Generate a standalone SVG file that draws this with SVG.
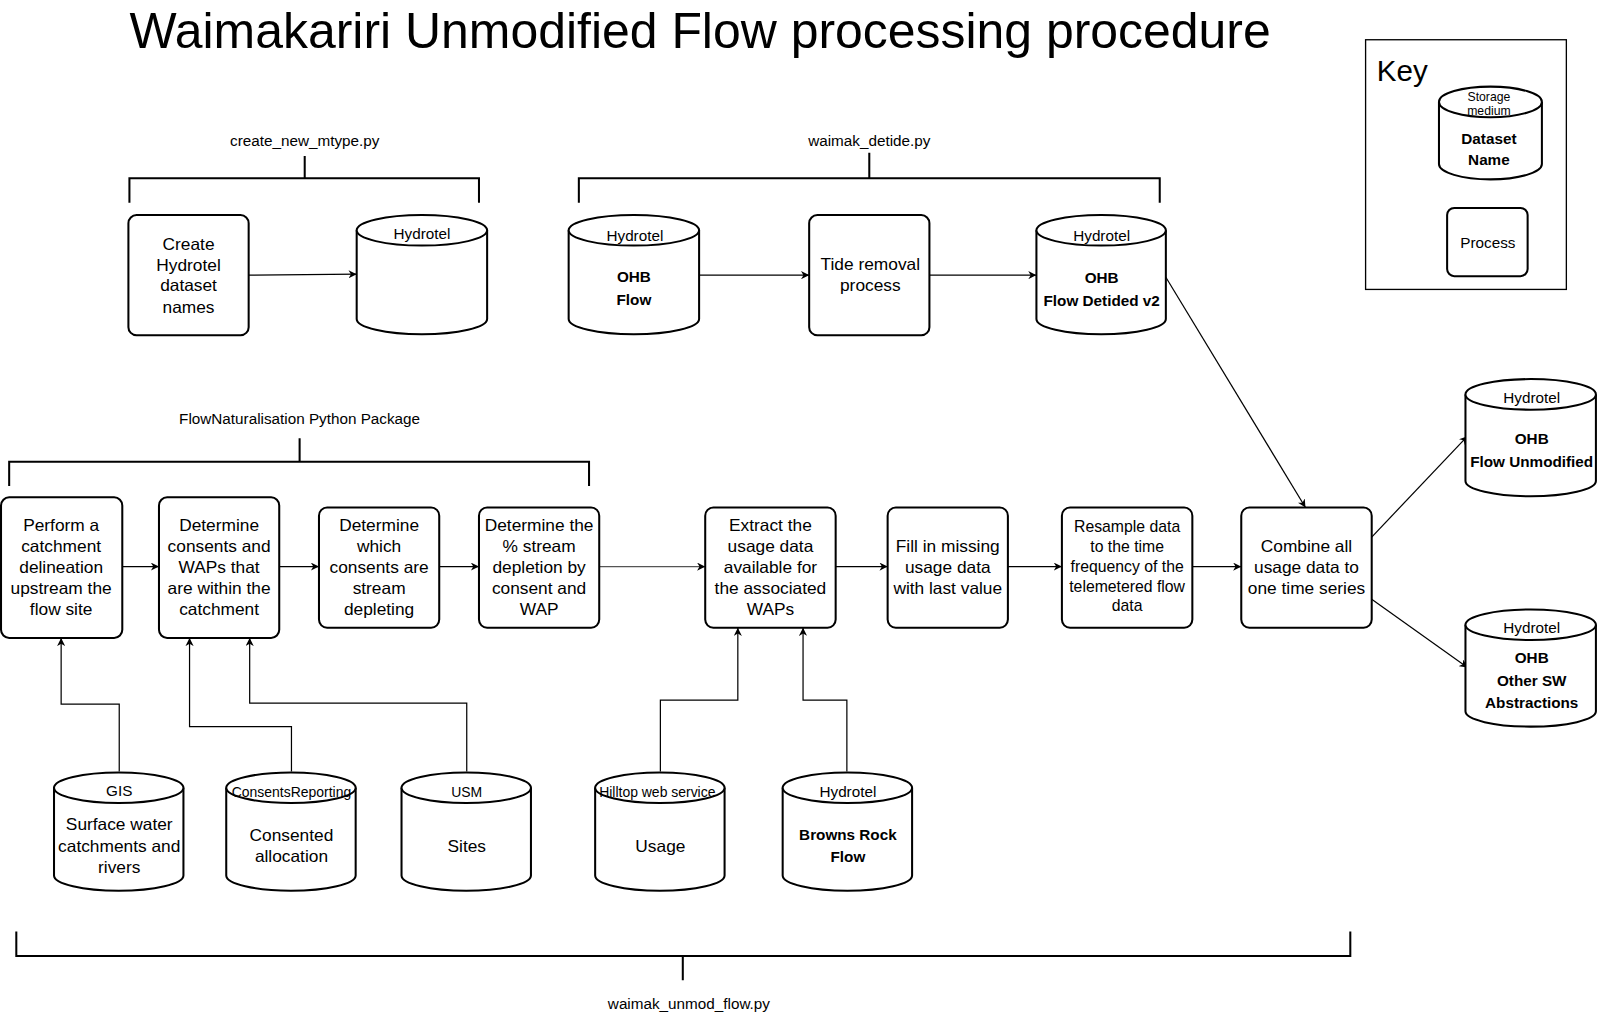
<svg xmlns="http://www.w3.org/2000/svg" width="1598" height="1015" viewBox="0 0 1598 1015">
<style>
text{font-family:"Liberation Sans",Arial,sans-serif;fill:#000;text-anchor:middle}
.t{font-size:17px}
.s{font-size:15px}
.xs{font-size:13.7px}
.b{font-size:15px;font-weight:bold}
.box{fill:#fff;stroke:#000;stroke-width:2}
.cyl{fill:#fff;stroke:#000;stroke-width:2}
.br{fill:none;stroke:#000;stroke-width:2}
.c{fill:none;stroke:#000;stroke-width:1.2}
</style>
<defs>
<marker id="a" viewBox="0 0 10 10" refX="10" refY="5" markerWidth="8" markerHeight="8" markerUnits="userSpaceOnUse" orient="auto">
<path d="M0,0 L10,5 L0,10 L3,5 Z" fill="#000"/>
</marker>
</defs>
<rect width="1598" height="1015" fill="#fff"/>
<g transform="scale(1.0191)">
<text x="687" y="47" style="font-size:49px">Waimakariri Unmodified Flow processing procedure</text>

<g id="key">
<rect x="1340" y="39" width="197" height="245" fill="#fff" stroke="#000" stroke-width="1.3"/>
<text x="1351" y="79" style="font-size:29px;text-anchor:start">Key</text>
<path class="cyl" d="M1412,100 L1412,161 A50.5,15 0 0 0 1513,161 L1513,100"/>
<ellipse class="cyl" cx="1462.5" cy="100" rx="50.5" ry="15"/>
<text x="1461" y="99" style="font-size:12px">Storage</text>
<text x="1461" y="113" style="font-size:12px">medium</text>
<text x="1461" y="141" class="b">Dataset</text>
<text x="1461" y="162" class="b">Name</text>
<rect class="box" x="1420" y="204" width="79" height="67" rx="7"/>
<text x="1460" y="243" class="s">Process</text>
</g>

<g id="brackets">
<path class="br" d="M127,199 V175 H470 V199 M299,175 V153"/>
<text x="299" y="143" class="s">create_new_mtype.py</text>
<path class="br" d="M568,199 V175 H1138 V199 M853,175 V150"/>
<text x="853" y="143" class="s">waimak_detide.py</text>
<path class="br" d="M9,477 V453 H578 V477 M294,453 V430"/>
<text x="294" y="416" class="s">FlowNaturalisation Python Package</text>
<path class="br" d="M16,914 V938 H1325 V914 M670,938 V962"/>
<text x="676" y="990" class="s">waimak_unmod_flow.py</text>
</g>

<g id="connectors">
<line class="c" x1="244" y1="270" x2="350" y2="269" marker-end="url(#a)"/>
<line class="c" x1="686" y1="270" x2="794" y2="270" marker-end="url(#a)"/>
<line class="c" x1="912" y1="270" x2="1017" y2="270" marker-end="url(#a)"/>
<line class="c" x1="1144" y1="272" x2="1281" y2="498" marker-end="url(#a)"/>
<line class="c" x1="120" y1="556" x2="156" y2="556" marker-end="url(#a)"/>
<line class="c" x1="274" y1="556" x2="313" y2="556" marker-end="url(#a)"/>
<line class="c" x1="431" y1="556" x2="470" y2="556" marker-end="url(#a)"/>
<line class="c" x1="588" y1="556" x2="692" y2="556" marker-end="url(#a)" style="stroke:#555"/>
<line class="c" x1="820" y1="556" x2="871" y2="556" marker-end="url(#a)"/>
<line class="c" x1="989" y1="556" x2="1042" y2="556" marker-end="url(#a)"/>
<line class="c" x1="1170" y1="556" x2="1218" y2="556" marker-end="url(#a)"/>
<line class="c" x1="1346" y1="527" x2="1440" y2="428" marker-end="url(#a)"/>
<line class="c" x1="1346" y1="588" x2="1440" y2="655" marker-end="url(#a)"/>
<path class="c" d="M117,757 V691 H60 V626" marker-end="url(#a)"/>
<path class="c" d="M286,757 V713 H186 V626" marker-end="url(#a)"/>
<path class="c" d="M458,757 V690 H245 V626" marker-end="url(#a)"/>
<path class="c" d="M648,757 V687 H724 V616" marker-end="url(#a)"/>
<path class="c" d="M831,757 V687 H788 V616" marker-end="url(#a)"/>
</g>

<g id="create">
<rect class="box" x="126" y="211" width="118" height="118" rx="8"/>
<text x="185" y="245" class="t">Create</text>
<text x="185" y="266" class="t">Hydrotel</text>
<text x="185" y="286" class="t">dataset</text>
<text x="185" y="307" class="t">names</text>
</g>
<g id="hydrotel1">
<path class="cyl" d="M350,226 L350,313 A64,15 0 0 0 478,313 L478,226"/>
<ellipse class="cyl" cx="414" cy="226" rx="64" ry="15"/>
<text x="414" y="235" class="s">Hydrotel</text>
</g>
<g id="ohbflow">
<path class="cyl" d="M558,226 L558,313 A64,15 0 0 0 686,313 L686,226"/>
<ellipse class="cyl" cx="622" cy="226" rx="64" ry="15"/>
<text x="623" y="236" class="s">Hydrotel</text>
<text x="622" y="277" class="b">OHB</text>
<text x="622" y="299" class="b">Flow</text>
</g>
<g id="tide">
<rect class="box" x="794" y="211" width="118" height="118" rx="8"/>
<text x="854" y="265" class="t">Tide removal</text>
<text x="854" y="286" class="t">process</text>
</g>
<g id="detided">
<path class="cyl" d="M1017,226 L1017,313 A63.5,15 0 0 0 1144,313 L1144,226"/>
<ellipse class="cyl" cx="1080.5" cy="226" rx="63.5" ry="15"/>
<text x="1081" y="236" class="s">Hydrotel</text>
<text x="1081" y="278" class="b">OHB</text>
<text x="1081" y="300" class="b">Flow Detided v2</text>
</g>

<g id="p1">
<rect class="box" x="1" y="488" width="119" height="138" rx="8"/>
<text x="60" y="521" class="t">Perform a</text>
<text x="60" y="542" class="t">catchment</text>
<text x="60" y="562" class="t">delineation</text>
<text x="60" y="583" class="t">upstream the</text>
<text x="60" y="603" class="t">flow site</text>
</g>
<g id="p2">
<rect class="box" x="156" y="488" width="118" height="138" rx="8"/>
<text x="215" y="521" class="t">Determine</text>
<text x="215" y="542" class="t">consents and</text>
<text x="215" y="562" class="t">WAPs that</text>
<text x="215" y="583" class="t">are within the</text>
<text x="215" y="603" class="t">catchment</text>
</g>
<g id="p3">
<rect class="box" x="313" y="498" width="118" height="118" rx="8"/>
<text x="372" y="521" class="t">Determine</text>
<text x="372" y="542" class="t">which</text>
<text x="372" y="562" class="t">consents are</text>
<text x="372" y="583" class="t">stream</text>
<text x="372" y="603" class="t">depleting</text>
</g>
<g id="p4">
<rect class="box" x="470" y="498" width="118" height="118" rx="8"/>
<text x="529" y="521" class="t">Determine the</text>
<text x="529" y="542" class="t">% stream</text>
<text x="529" y="562" class="t">depletion by</text>
<text x="529" y="583" class="t">consent and</text>
<text x="529" y="603" class="t">WAP</text>
</g>
<g id="p5">
<rect class="box" x="692" y="498" width="128" height="118" rx="8"/>
<text x="756" y="521" class="t">Extract the</text>
<text x="756" y="542" class="t">usage data</text>
<text x="756" y="562" class="t">available for</text>
<text x="756" y="583" class="t">the associated</text>
<text x="756" y="603" class="t">WAPs</text>
</g>
<g id="p6">
<rect class="box" x="871" y="498" width="118" height="118" rx="8"/>
<text x="930" y="542" class="t">Fill in missing</text>
<text x="930" y="562" class="t">usage data</text>
<text x="930" y="583" class="t">with last value</text>
</g>
<g id="p7">
<rect class="box" x="1042" y="498" width="128" height="118" rx="8"/>
<text x="1106" y="522" style="font-size:15.5px">Resample data</text>
<text x="1106" y="542" style="font-size:15.5px">to the time</text>
<text x="1106" y="561" style="font-size:15.5px">frequency of the</text>
<text x="1106" y="581" style="font-size:15.5px">telemetered flow</text>
<text x="1106" y="600" style="font-size:15.5px">data</text>
</g>
<g id="p8">
<rect class="box" x="1218" y="498" width="128" height="118" rx="8"/>
<text x="1282" y="542" class="t">Combine all</text>
<text x="1282" y="562" class="t">usage data to</text>
<text x="1282" y="583" class="t">one time series</text>
</g>

<g id="unmod">
<path class="cyl" d="M1438,387 L1438,472 A64,15 0 0 0 1566,472 L1566,387"/>
<ellipse class="cyl" cx="1502" cy="387" rx="64" ry="15"/>
<text x="1503" y="395" class="s">Hydrotel</text>
<text x="1503" y="436" class="b">OHB</text>
<text x="1503" y="458" class="b">Flow Unmodified</text>
</g>
<g id="othersw">
<path class="cyl" d="M1438,613 L1438,698 A64,15 0 0 0 1566,698 L1566,613"/>
<ellipse class="cyl" cx="1502" cy="613" rx="64" ry="15"/>
<text x="1503" y="621" class="s">Hydrotel</text>
<text x="1503" y="651" class="b">OHB</text>
<text x="1503" y="673" class="b">Other SW</text>
<text x="1503" y="695" class="b">Abstractions</text>
</g>

<g id="gis">
<path class="cyl" d="M53,773 L53,859 A63.5,15 0 0 0 180,859 L180,773"/>
<ellipse class="cyl" cx="116.5" cy="773" rx="63.5" ry="15"/>
<text x="117" y="781" class="s">GIS</text>
<text x="117" y="814" class="t">Surface water</text>
<text x="117" y="836" class="t">catchments and</text>
<text x="117" y="857" class="t">rivers</text>
</g>
<g id="consents">
<path class="cyl" d="M222,773 L222,859 A63.5,15 0 0 0 349,859 L349,773"/>
<ellipse class="cyl" cx="285.5" cy="773" rx="63.5" ry="15"/>
<text x="286" y="782" class="xs">ConsentsReporting</text>
<text x="286" y="825" class="t">Consented</text>
<text x="286" y="846" class="t">allocation</text>
</g>
<g id="usm">
<path class="cyl" d="M394,773 L394,859 A63.5,15 0 0 0 521,859 L521,773"/>
<ellipse class="cyl" cx="457.5" cy="773" rx="63.5" ry="15"/>
<text x="458" y="782" class="xs">USM</text>
<text x="458" y="836" class="t">Sites</text>
</g>
<g id="hilltop">
<path class="cyl" d="M584,773 L584,859 A63.5,15 0 0 0 711,859 L711,773"/>
<ellipse class="cyl" cx="647.5" cy="773" rx="63.5" ry="15"/>
<text x="645" y="782" class="xs">Hilltop web service</text>
<text x="648" y="836" class="t">Usage</text>
</g>
<g id="browns">
<path class="cyl" d="M768,773 L768,859 A63.5,15 0 0 0 895,859 L895,773"/>
<ellipse class="cyl" cx="831.5" cy="773" rx="63.5" ry="15"/>
<text x="832" y="782" class="s">Hydrotel</text>
<text x="832" y="824" class="b">Browns Rock</text>
<text x="832" y="846" class="b">Flow</text>
</g>
</g>
</svg>
